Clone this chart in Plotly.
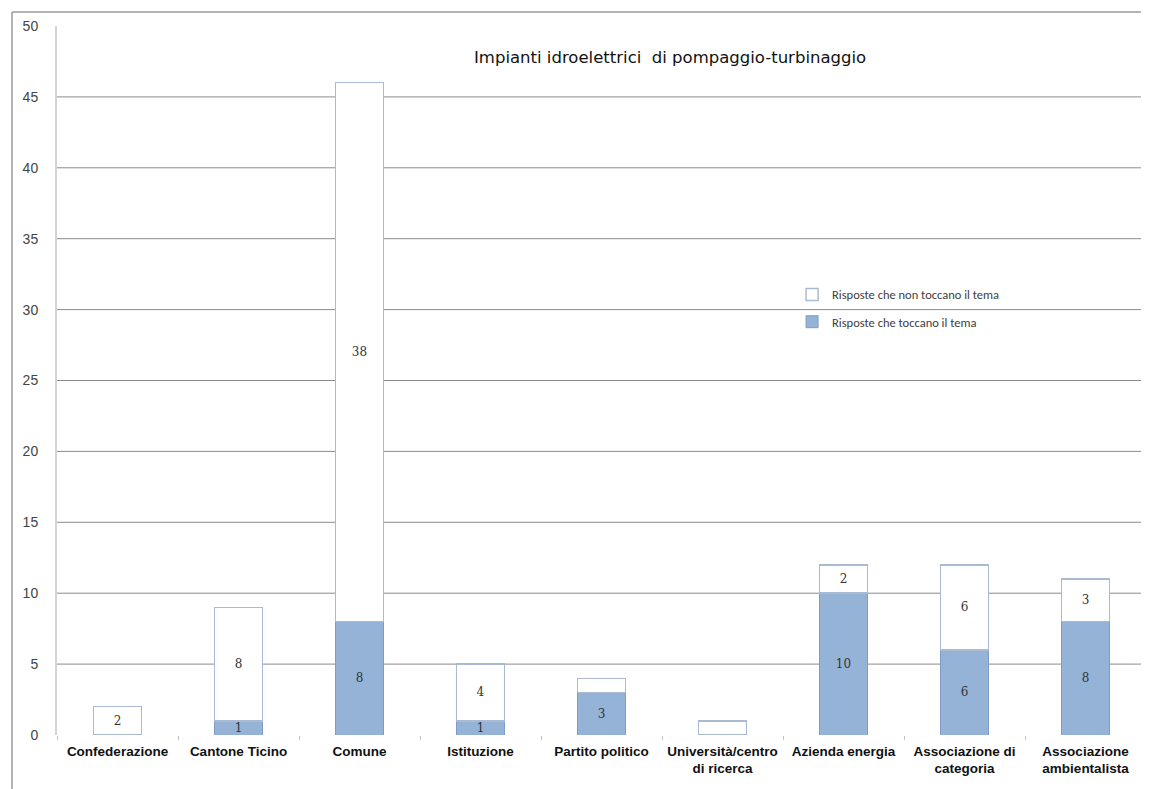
import plotly.graph_objects as go

categories = ["Confederazione", "Cantone Ticino", "Comune", "Istituzione", "Partito politico",
              "Università/centro<br>di ricerca", "Azienda energia", "Associazione di<br>categoria",
              "Associazione<br>ambientalista"]
touching = [0, 1, 8, 1, 3, 0, 10, 6, 8]
non_touching = [2, 8, 38, 4, 1, 1, 2, 6, 3]
touching_labels = ["", "1", "8", "1", "3", "", "10", "6", "8"]
non_touching_labels = ["2", "8", "38", "4", "", "", "2", "6", "3"]
y_ticks = [0, 5, 10, 15, 20, 25, 30, 35, 40, 45, 50]
grid_values = [5, 10, 15, 20, 25, 30, 35, 40, 45]

label_font = dict(family="DejaVu Serif, Liberation Serif, serif", size=12, color="#333333")

fig = go.Figure()
fig.add_trace(go.Bar(
    x=categories, y=touching, name="Risposte che toccano il tema",
    marker=dict(color="#95b3d7", line=dict(color="#7f9cc6", width=1)),
    text=touching_labels, textposition="inside", insidetextanchor="middle",
    constraintext="none", textfont=label_font, textangle=0,
    legendgroup="b", legendrank=2,
))
fig.add_trace(go.Bar(
    x=categories, y=non_touching, name="Risposte che non toccano il tema",
    marker=dict(color="#ffffff", line=dict(color="#a9bad2", width=1.5)),
    text=non_touching_labels, textposition="inside", insidetextanchor="middle",
    constraintext="none", textfont=label_font, textangle=0,
    legendgroup="a", legendrank=1,
))

shapes = []
for g in grid_values:
    shapes.append(dict(type="line", xref="paper", yref="y", x0=0, x1=1, y0=g, y1=g,
                       line=dict(color="#8c8c8c", width=1), layer="below"))
# outer frame (left and top edges)
shapes.append(dict(type="line", xref="paper", yref="paper", x0=-0.0413, x1=-0.0413, y0=-0.2, y1=1.0197,
                   line=dict(color="#9a9a9a", width=1.5)))
shapes.append(dict(type="line", xref="paper", yref="paper", x0=-0.0413, x1=1.02, y0=1.0197, y1=1.0197,
                   line=dict(color="#9a9a9a", width=1.5)))

fig.update_layout(
    width=1149, height=789,
    margin=dict(l=49, r=11, t=18, b=62),
    paper_bgcolor="white", plot_bgcolor="white",
    barmode="stack", bargap=0.6,
    showlegend=True,
    legend=dict(x=0.675, y=0.642, xanchor="left", yanchor="top", bgcolor="rgba(0,0,0,0)",
                traceorder="grouped", tracegroupgap=8, itemwidth=30,
                font=dict(family="Carlito, Liberation Sans, sans-serif", size=12.5, color="#404040")),
    shapes=shapes,
    annotations=[dict(text="Impianti idroelettrici  di pompaggio-turbinaggio", xref="paper", yref="paper",
                      x=0.563, y=0.956, showarrow=False, xanchor="center", yanchor="middle",
                      font=dict(family="DejaVu Sans, Liberation Sans, sans-serif", size=16.5, color="#111111"))],
    font=dict(family="Liberation Sans, Arial, sans-serif"),
)
fig.update_yaxes(range=[0, 50], tickvals=y_ticks, showgrid=False, zeroline=False,
                 showline=True, linecolor="#d4d4d4", linewidth=2, ticks="",
                 ticklabelstandoff=14,
                 tickfont=dict(family="Liberation Sans, Arial, sans-serif", size=14, color="#444444"))
fig.update_xaxes(showgrid=False, showline=False, ticks="outside", tickson="boundaries",
                 ticklen=4, tickcolor="#c0c0c0", ticklabelstandoff=6,
                 tickfont=dict(family="Liberation Sans, Arial, sans-serif",
                               size=13.5, color="#111111", weight="bold"))

fig.write_html("out.html")
